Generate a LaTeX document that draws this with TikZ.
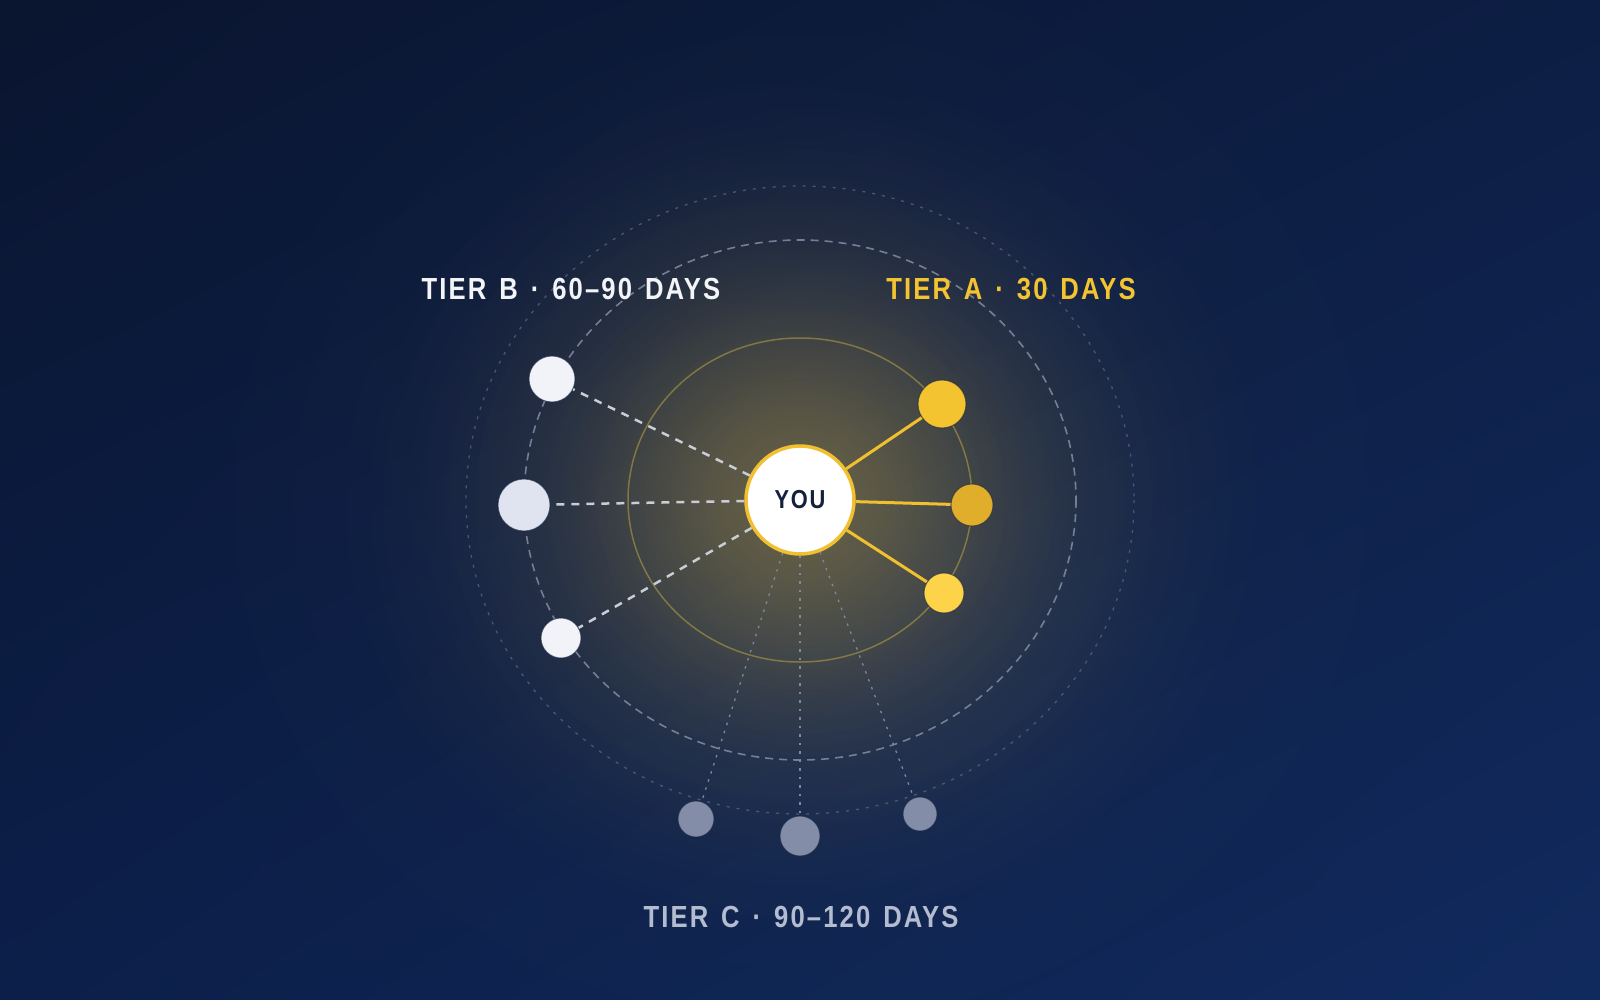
\documentclass[tikz,border=0pt]{standalone}
\usepackage{fontspec}
\setmainfont{Liberation Sans}
\newfontfamily\labelfont[FakeStretch=0.84,LetterSpace=7,WordSpace=1.4]{Liberation Sans}
\usetikzlibrary{fadings,shadings}
\definecolor{bgTL}{HTML}{0A152F}
\definecolor{bgTR}{HTML}{0D1E44}
\definecolor{bgBL}{HTML}{0C1F4A}
\definecolor{bgBR}{HTML}{112A5E}
\definecolor{glowcol}{HTML}{F0C545}
\definecolor{gold}{HTML}{F0C030}
\definecolor{goldA}{HTML}{F4C430}
\definecolor{goldB}{HTML}{E0AE2A}
\definecolor{goldC}{HTML}{FDD34A}
\definecolor{whiteA}{HTML}{F1F3F9}
\definecolor{whiteB}{HTML}{DFE4F0}
\definecolor{greyC}{HTML}{838DA8}
\definecolor{nodeedge}{HTML}{1A2540}
\definecolor{navytext}{HTML}{14213D}
\definecolor{ringin}{HTML}{B09A45}
\definecolor{ringdash}{HTML}{8A93A8}
\definecolor{ringdot}{HTML}{6A7590}
\definecolor{edgeBcol}{HTML}{C9CDD6}
\definecolor{edgeCcol}{HTML}{7D88A2}
\definecolor{tierBcol}{HTML}{F2F4F8}
\definecolor{tierCcol}{HTML}{B4BCD0}
\pgfdeclareradialshading{glowshade}{\pgfpointorigin}{color(0bp)=(white); color(2.5bp)=(white!95!black); color(5bp)=(white!82!black); color(7.5bp)=(white!64!black); color(10bp)=(white!46!black); color(12.5bp)=(white!30!black); color(15bp)=(white!19!black); color(17.5bp)=(white!11!black); color(20bp)=(white!5!black); color(22.5bp)=(white!2!black); color(25bp)=(black); color(50bp)=(black)}
\pgfdeclarefading{glowfade}{\pgfuseshading{glowshade}}
\tikzset{
  younode/.style={circle, inner sep=0pt, minimum size=108pt, fill=white, draw=gold, line width=3.5pt, text=navytext, font=\labelfont\bfseries\fontsize{26}{30}\selectfont},
  dotnode/.style={circle, inner sep=0pt, draw=nodeedge, draw opacity=0.6, line width=1pt},
  edgeA/.style={draw=gold, line width=3pt},
  edgeB/.style={draw=edgeBcol, line width=2.5pt, dash pattern=on 8pt off 7pt},
  edgeC/.style={draw=edgeCcol, line width=1.3pt, dash pattern=on 2.5pt off 6pt},
  tierlabel/.style={font=\labelfont\bfseries\fontsize{30.5}{36}\selectfont, inner sep=0pt},
  ringinner/.style={draw=ringin, draw opacity=0.6, line width=1.5pt},
  ringdashed/.style={draw=ringdash, draw opacity=0.8, line width=1.6pt, dash pattern=on 8pt off 6pt},
  ringdotted/.style={draw=ringdot, draw opacity=0.6, line width=1.3pt, dash pattern=on 3pt off 7pt},
}
\begin{document}
\begin{tikzpicture}[x=1pt, y=-1pt]
\useasboundingbox (0,0) rectangle (1600,1000);
\shade[upper left=bgTL, upper right=bgTR, lower left=bgBL, lower right=bgBR] (0,0) rectangle (1600,1000);
% glow
\fill[glowcol, path fading=glowfade, fill opacity=0.07] (800,500) ellipse [x radius=760, y radius=700];
\fill[glowcol, path fading=glowfade, fill opacity=0.34] (800,500) ellipse [x radius=470, y radius=450];
% rings
\draw[ringdotted] (800,500) ellipse [x radius=334, y radius=314];
\draw[ringdashed] (800,500) ellipse [x radius=276, y radius=260];
\draw[ringinner] (800,500) ellipse [x radius=172, y radius=162];
% nodes
\node[younode] (you) at (800,500) {YOU};
\node[dotnode, fill=goldA, minimum size=48pt] (a1) at (942,404) {};
\node[dotnode, fill=goldB, minimum size=42pt] (a2) at (972,505) {};
\node[dotnode, fill=goldC, minimum size=40pt] (a3) at (944,593) {};
\node[dotnode, fill=whiteA, minimum size=46pt] (b1) at (552,379) {};
\node[dotnode, fill=whiteB, minimum size=52pt] (b2) at (524,505) {};
\node[dotnode, fill=whiteA, minimum size=40pt] (b3) at (561,638) {};
\node[dotnode, fill=greyC, minimum size=36pt] (c1) at (696,819) {};
\node[dotnode, fill=greyC, minimum size=40pt] (c2) at (800,836) {};
\node[dotnode, fill=greyC, minimum size=34pt] (c3) at (920,814) {};
% edges
\draw[edgeA] (you) -- (a1);
\draw[edgeA] (you) -- (a2);
\draw[edgeA] (you) -- (a3);
\draw[edgeB] (you) -- (b1);
\draw[edgeB] (you) -- (b2);
\draw[edgeB] (you) -- (b3);
\draw[edgeC] (you) -- (c1);
\draw[edgeC] (you) -- (c2);
\draw[edgeC] (you) -- (c3);
% labels
\node[tierlabel, text=tierBcol] (lblB) at (571,289.5) {TIER B · 60–90 DAYS};
\node[tierlabel, text=goldA] (lblA) at (1011,289.5) {TIER A · 30 DAYS};
\node[tierlabel, text=tierCcol] (lblC) at (801,917) {TIER C · 90–120 DAYS};
\end{tikzpicture}
\end{document}
